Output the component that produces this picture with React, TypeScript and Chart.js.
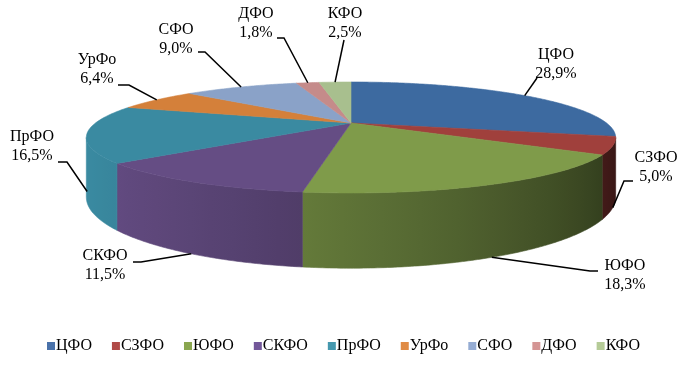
import { useEffect, useRef } from 'react';
import { Chart, registerables } from 'chart.js';

Chart.register(...registerables);

const categories = ['ЦФО', 'СЗФО', 'ЮФО', 'СКФО', 'ПрФО', 'УрФо', 'СФО', 'ДФО', 'КФО'];
const shares = [28.9, 5.0, 18.3, 11.5, 16.5, 6.4, 9.0, 1.8, 2.5];
const legendColors = ['#4a72aa', '#b04a47', '#8aa64f', '#73589a', '#4598ae', '#e08b45', '#95acd3', '#d49594', '#b5cb97'];
const topColors = ['#3d6aa0', '#a0403c', '#7f9b4a', '#654d84', '#3a8aa1', '#d4803a', '#8aa2c8', '#c58b8a', '#a8bf8e'];

// label layout: [centerX, firstLineY, leaderStartX, leaderStartY, elbowX]
const labelLayout = [
  [556, 55, 537, 78, 537],
  [656, 158, 633, 181, 624],
  [625, 266, 598, 271, 590],
  [105, 256, 133, 262, 141],
  [32, 137, 58, 162, 67],
  [97, 60, 118, 85, 129],
  [176, 30, 198, 52, 205],
  [256, 14, 277, 38, 284],
  [345, 14, 344, 40, 344],
];

// 3D projection settings (layout / style)
const VIEW = { cx: 351, cy: 123, a: 255.5, b: 51.7, p: 0.261, depth: 55.6 };
const LEGEND = { left: 47, right: 640, y: 346, box: 8, gap: 1 };
const FONT = '16px "Liberation Serif", "Times New Roman", serif';

function proj(phi: number) {
  const u = Math.cos(phi);
  const v = Math.sin(phi);
  const d = 1 - VIEW.p * v;
  return { x: VIEW.cx + (VIEW.a * u) / d, y: VIEW.cy + (VIEW.b * v) / d, drop: VIEW.depth / d };
}

function shade(hex: string, f: number) {
  const n = parseInt(hex.slice(1), 16);
  const r = Math.min(255, Math.round(((n >> 16) & 255) * f));
  const g = Math.min(255, Math.round(((n >> 8) & 255) * f));
  const b = Math.min(255, Math.round((n & 255) * f));
  return `rgb(${r},${g},${b})`;
}

function light(phi: number) {
  const deg = (phi * 180) / Math.PI;
  return 0.3 + 0.7 * (0.5 + 0.5 * Math.cos(((deg - 165) * Math.PI) / 180));
}

const pie3dPlugin = {
  id: 'pie3d',
  beforeDatasetsDraw(chart: any) {
    const ctx: CanvasRenderingContext2D = chart.ctx;
    const meta = chart.getDatasetMeta(0);
    const arcs = meta.data as any[];
    const phiMin = Math.asin(VIEW.p);
    const phiMax = Math.PI - phiMin;
    ctx.save();
    // walls
    arcs.forEach((arc, i) => {
      const { startAngle, endAngle } = arc.getProps(['startAngle', 'endAngle'], true);
      const a0 = Math.max(startAngle, phiMin);
      const a1 = Math.min(endAngle, phiMax);
      if (a1 <= a0) return;
      const N = Math.max(2, Math.ceil((a1 - a0) / 0.01));
      ctx.beginPath();
      for (let k = 0; k <= N; k++) {
        const pt = proj(a0 + ((a1 - a0) * k) / N);
        if (k === 0) ctx.moveTo(pt.x, pt.y);
        else ctx.lineTo(pt.x, pt.y);
      }
      for (let k = N; k >= 0; k--) {
        const pt = proj(a0 + ((a1 - a0) * k) / N);
        ctx.lineTo(pt.x, pt.y + pt.drop);
      }
      ctx.closePath();
      const x0 = proj(a0).x;
      const x1 = proj(a1).x;
      let fill: any = shade(topColors[i], light((a0 + a1) / 2));
      if (Math.abs(x1 - x0) > 0.5) {
        const g = ctx.createLinearGradient(x0, 0, x1, 0);
        for (let k = 0; k <= 10; k++) {
          const phi = a0 + ((a1 - a0) * k) / 10;
          const t = Math.min(1, Math.max(0, (proj(phi).x - x0) / (x1 - x0)));
          g.addColorStop(t, shade(topColors[i], light(phi)));
        }
        fill = g;
      }
      ctx.fillStyle = fill;
      ctx.strokeStyle = fill;
      ctx.lineWidth = 0.6;
      ctx.fill();
      ctx.stroke();
    });
    // top faces
    arcs.forEach((arc, i) => {
      const { startAngle, endAngle } = arc.getProps(['startAngle', 'endAngle'], true);
      const N = Math.max(2, Math.ceil((endAngle - startAngle) / 0.01));
      ctx.beginPath();
      ctx.moveTo(VIEW.cx, VIEW.cy);
      for (let k = 0; k <= N; k++) {
        const pt = proj(startAngle + ((endAngle - startAngle) * k) / N);
        ctx.lineTo(pt.x, pt.y);
      }
      ctx.closePath();
      ctx.fillStyle = topColors[i];
      ctx.strokeStyle = topColors[i];
      ctx.lineWidth = 0.6;
      ctx.fill();
      ctx.stroke();
    });
    // leader lines and labels
    arcs.forEach((arc, i) => {
      const { startAngle, endAngle } = arc.getProps(['startAngle', 'endAngle'], true);
      const mid = (startAngle + endAngle) / 2;
      const pt = proj(mid);
      const ay = Math.sin(mid) > 0 ? pt.y + pt.drop : pt.y;
      const [lx, ly, sx, sy, ex] = labelLayout[i];
      ctx.beginPath();
      ctx.moveTo(sx, sy);
      ctx.lineTo(ex, sy);
      ctx.lineTo(pt.x, ay);
      ctx.strokeStyle = '#000';
      ctx.lineWidth = 1.5;
      ctx.stroke();
      ctx.fillStyle = '#000';
      ctx.font = FONT;
      ctx.textAlign = 'center';
      ctx.textBaseline = 'middle';
      ctx.fillText(categories[i], lx, ly);
      ctx.fillText(shares[i].toFixed(1).replace('.', ',') + '%', lx, ly + 19);
    });
    // legend
    ctx.font = FONT;
    ctx.textAlign = 'left';
    ctx.textBaseline = 'middle';
    const widths = categories.map((c) => ctx.measureText(c).width);
    const itemsW = widths.reduce((s, w) => s + w + LEGEND.box + LEGEND.gap, 0);
    const spacing = (LEGEND.right - LEGEND.left - itemsW) / (categories.length - 1);
    let x = LEGEND.left;
    categories.forEach((c, i) => {
      ctx.fillStyle = legendColors[i];
      ctx.fillRect(x, LEGEND.y - LEGEND.box / 2, LEGEND.box, LEGEND.box);
      ctx.fillStyle = '#000';
      ctx.fillText(c, x + LEGEND.box + LEGEND.gap, LEGEND.y);
      x += LEGEND.box + LEGEND.gap + widths[i] + spacing;
    });
    ctx.restore();
    return false;
  },
};

export default function App() {
  const ref = useRef<HTMLCanvasElement>(null);
  useEffect(() => {
    document.body.style.margin = '0';
    const chart = new Chart(ref.current!, {
      type: 'pie',
      data: {
        labels: categories,
        datasets: [{ data: shares, backgroundColor: legendColors, borderWidth: 0 }],
      },
      options: {
        responsive: false,
        animation: false,
        events: [],
        plugins: {
          tooltip: { enabled: false },
          legend: { display: false },
        },
      },
      plugins: [pie3dPlugin],
    });
    return () => chart.destroy();
  }, []);
  return <canvas ref={ref} width={691} height={369} style={{ display: 'block' }} />;
}
